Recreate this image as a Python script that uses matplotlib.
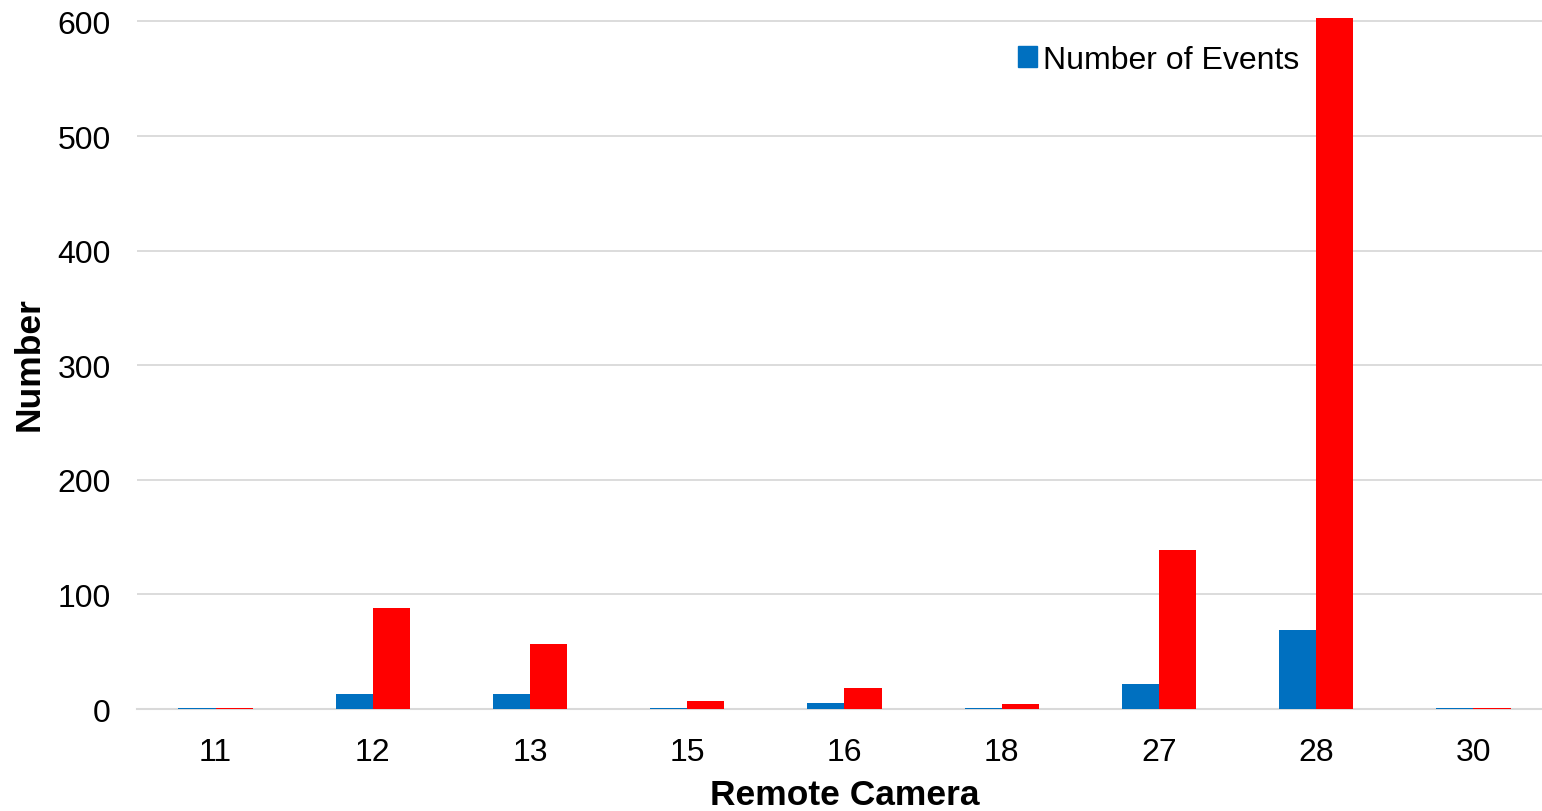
import numpy as np
import matplotlib.pyplot as plt
from matplotlib.patches import Patch

plt.rcParams['font.family'] = ['Liberation Sans', 'DejaVu Sans']

# camera ids and counts per camera
cameras = ['11', '12', '13', '15', '16', '18', '27', '28', '30']
events = [1, 13, 13, 1, 5, 1, 22, 69, 1]
detections = [1, 88, 57, 7, 18, 4, 139, 603, 1]

fig = plt.figure(figsize=(15.42, 8.12), dpi=100)
ax = fig.add_axes([0.0888, 0.1256, 0.9177, 0.851])

x = np.arange(len(cameras))
w = 0.236
ax.bar(x - w / 2, events, w, color='#0070C0', zorder=3)
ax.bar(x + w / 2, detections, w, color='#FF0000', zorder=3)

ax.set_xlim(-0.5, len(cameras) - 0.5)
ax.set_ylim(0, 603)
ax.set_yticks(range(0, 601, 100))
ax.set_xticks(x)
ax.set_xticklabels(cameras)
ax.tick_params(axis='both', length=0, labelsize=23)
ax.tick_params(axis='x', pad=20)
ax.tick_params(axis='y', pad=19)

ax.grid(axis='y', color='#d9d9d9', linewidth=1.3, zorder=0)
for s in ['top', 'right', 'left']:
    ax.spines[s].set_visible(False)
ax.spines['bottom'].set_color('#d9d9d9')
ax.spines['bottom'].set_linewidth(1.5)

ax.set_xlabel('Remote Camera', fontsize=25.5, fontweight='bold', labelpad=8)
ax.set_ylabel('Number', fontsize=25.5, fontweight='bold', labelpad=8)

ax.legend(handles=[Patch(color='#0070C0', label='Number of Events')],
          loc='upper right', bbox_to_anchor=(0.842, 1.003), frameon=False,
          fontsize=23, handlelength=0.6, handleheight=0.6, handletextpad=0.2)

fig.savefig('out.png', dpi=100)
